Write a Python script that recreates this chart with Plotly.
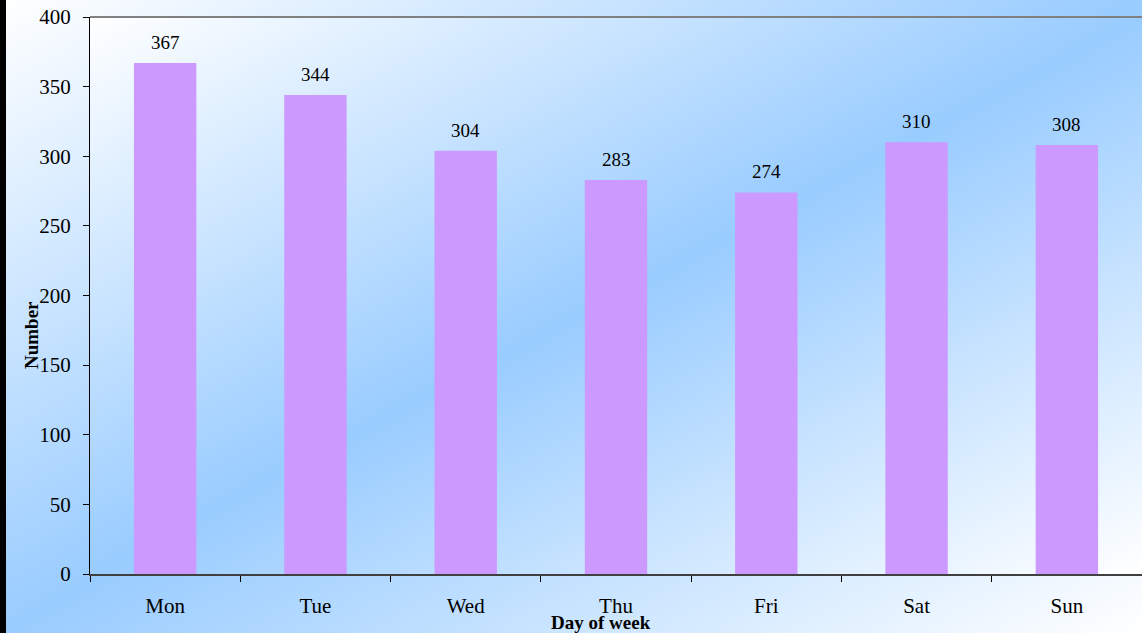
import base64
import plotly.graph_objects as go

days = ["Mon", "Tue", "Wed", "Thu", "Fri", "Sat", "Sun"]
counts = [367, 344, 304, 283, 274, 310, 308]
y_ticks = [0, 50, 100, 150, 200, 250, 300, 350, 400]

W, H = 1142, 633
ML, MR, MT, MB = 90, 0, 17, 59
PW, PH = W - ML - MR, H - MT - MB

FONT = "Liberation Serif, Times New Roman, serif"
BAR = "#CC99FF"
BLUE = "#99CCFF"


def grad_uri():
    svg = (
        "<svg xmlns='http://www.w3.org/2000/svg' width='200' height='200' "
        "viewBox='0 0 200 200' preserveAspectRatio='none'>"
        "<defs><linearGradient id='g' x1='0' y1='0' x2='1' y2='1'>"
        "<stop offset='0' stop-color='#FFFFFF'/>"
        f"<stop offset='0.5' stop-color='{BLUE}'/>"
        "<stop offset='1' stop-color='#FFFFFF'/>"
        "</linearGradient></defs>"
        "<rect width='200' height='200' fill='url(#g)'/></svg>"
    )
    return "data:image/svg+xml;base64," + base64.b64encode(svg.encode()).decode()


src = grad_uri()

fig = go.Figure()
fig.add_trace(go.Bar(
    x=days, y=counts, width=0.415,
    marker=dict(color=BAR, line=dict(width=0)),
    hoverinfo="x+y",
))

annotations = []
for d, c in zip(days, counts):
    annotations.append(dict(
        x=d, y=c, xref="x", yref="y", text=str(c), showarrow=False,
        yanchor="bottom", yshift=8,
        font=dict(family=FONT, size=19, color="black"),
    ))
annotations.append(dict(
    x=(601 - ML) / PW, y=1 - (622 - MT) / PH,
    xref="paper", yref="paper", text="<b>Day of week</b>", showarrow=False,
    xanchor="center", yanchor="middle",
    font=dict(family=FONT, size=19, color="black"),
))
annotations.append(dict(
    x=(31 - ML) / PW, y=1 - (335 - MT) / PH,
    xref="paper", yref="paper", text="<b>Number</b>", showarrow=False,
    textangle=-90, xanchor="center", yanchor="middle",
    font=dict(family=FONT, size=19, color="black"),
))

fig.update_layout(
    width=W, height=H,
    margin=dict(l=ML, r=MR, t=MT, b=MB, pad=0),
    paper_bgcolor="white",
    plot_bgcolor="rgba(0,0,0,0)",
    showlegend=False,
    annotations=annotations,
    images=[
        dict(source=src, xref="paper", yref="paper",
             x=-ML / PW, y=1 + MT / PH, sizex=W / PW, sizey=H / PH,
             xanchor="left", yanchor="top", sizing="stretch", layer="below"),
        dict(source=src, xref="paper", yref="paper",
             x=0, y=1, sizex=1, sizey=1,
             xanchor="left", yanchor="top", sizing="stretch", layer="below"),
    ],
    shapes=[
        dict(type="line", xref="paper", yref="paper", x0=0, x1=1, y0=1, y1=1,
             line=dict(color="#808080", width=2)),
        dict(type="rect", xref="paper", yref="paper",
             x0=-ML / PW, x1=-(ML - 6) / PW, y0=-MB / PH, y1=1 + MT / PH,
             fillcolor="black", line=dict(width=0)),
    ],
    xaxis=dict(
        showgrid=False, zeroline=False,
        showline=True, linecolor="#404040", linewidth=2,
        ticks="outside", tickson="boundaries", ticklen=6, tickcolor="black", tickwidth=1,
        tickfont=dict(family=FONT, size=21, color="black"),
        ticklabelstandoff=12,
    ),
    yaxis=dict(
        range=[0, 400], tickvals=y_ticks,
        showgrid=False, zeroline=False,
        showline=True, linecolor="black", linewidth=1,
        ticks="outside", ticklen=6, tickcolor="black", tickwidth=1,
        tickfont=dict(family=FONT, size=21, color="black"),
        ticklabelstandoff=8,
    ),
)

fig.write_html(
    "out.html",
    config={"displayModeBar": False},
    post_script="document.body.style.margin='0';document.body.style.overflow='hidden';",
)
